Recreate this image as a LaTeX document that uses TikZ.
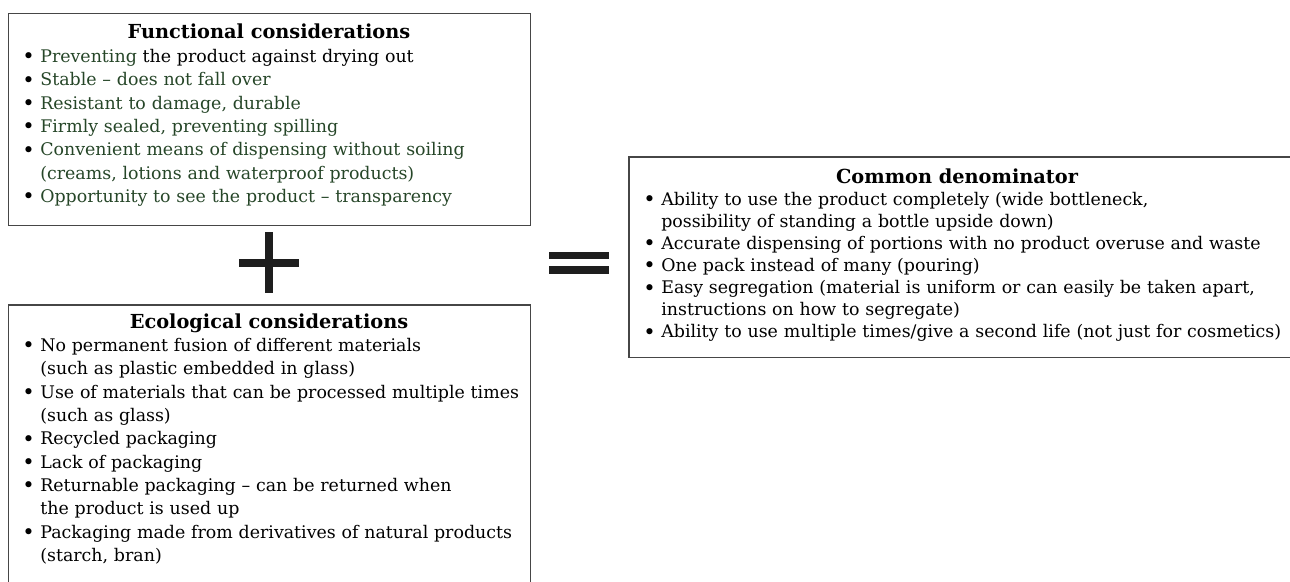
\documentclass[tikz,border=0pt]{standalone}
\usepackage{fontspec}
\setmainfont{DejaVu Serif}
\definecolor{leaf}{RGB}{38,70,40}
\definecolor{frame}{RGB}{70,70,70}
\definecolor{ink}{RGB}{30,30,30}
% one bullet item; continuation lines hang under the text
\newcommand\bitem[1]{\hangindent=0.36cm\hangafter=1\noindent\makebox[0.36cm][l]{\raisebox{-0.15ex}{\fontsize{12}{12}\selectfont•}}#1\par}
\begin{document}
\begin{tikzpicture}[x=0.02cm,y=-0.02cm,
  panel/.style={draw=frame,line width=0.03cm,anchor=north west,inner sep=0pt},
  heading/.style={anchor=base,inner sep=0pt,font=\fontsize{11}{13.3}\selectfont\bfseries},
  list/.style={anchor=base west,inner sep=0pt,align=left,text width=16cm,
    font=\fontsize{9.9}{13.3}\selectfont},
  symbolbar/.style={fill=ink}]
\useasboundingbox (0,0) rectangle (1290,581);
\clip (0,0) rectangle (1290,581);

% frames
\node[panel,minimum width=10.44cm,minimum height=4.24cm] (func) at (8,13) {};
\node[panel,minimum width=10.44cm,minimum height=6.4cm] (eco) at (8,304) {};
\node[panel,minimum width=13.5cm,minimum height=4.02cm] (common) at (628,156) {};

% functional considerations
\node[heading] (functitle) at (269,39) {Functional considerations};
\node[list] (functext) at (22,62.4) {%
\bitem{\textcolor{leaf}{Preventing} the product against drying out}
\bitem{\textcolor{leaf}{Stable – does not fall over}}
\bitem{\textcolor{leaf}{Resistant to damage, durable}}
\bitem{\textcolor{leaf}{Firmly sealed, preventing spilling}}
\bitem{\textcolor{leaf}{Convenient means of dispensing without soiling\newline(creams, lotions and waterproof products)}}
\bitem{\textcolor{leaf}{Opportunity to see the product – transparency}}};

% ecological considerations
\node[heading] (ecotitle) at (269,328) {Ecological considerations};
\node[list] (ecotext) at (22,351.4) {%
\bitem{No permanent fusion of different materials\newline(such as plastic embedded in glass)}
\bitem{Use of materials that can be processed multiple times\newline(such as glass)}
\bitem{Recycled packaging}
\bitem{Lack of packaging}
\bitem{Returnable packaging – can be returned when\newline the product is used up}
\bitem{Packaging made from derivatives of natural products\newline(starch, bran)}};

% common denominator
\node[heading] (commontitle) at (957,183) {Common denominator};
\node[list,font=\fontsize{9.9}{12.6}\selectfont] (commontext) at (643,205.1) {%
\bitem{Ability to use the product completely (wide bottleneck,\newline possibility of standing a bottle upside down)}
\bitem{Accurate dispensing of portions with no product overuse and waste}
\bitem{One pack instead of many (pouring)}
\bitem{Easy segregation (material is uniform or can easily be taken apart,\newline instructions on how to segregate)}
\bitem{Ability to use multiple times/give a second life (not just for cosmetics)}};

% plus sign
\fill[symbolbar] (265,232) rectangle (273,293);
\fill[symbolbar] (239,259) rectangle (299,267);
% equals sign
\fill[symbolbar] (549,252) rectangle (609,259);
\fill[symbolbar] (549,266) rectangle (609,274);
\end{tikzpicture}
\end{document}
